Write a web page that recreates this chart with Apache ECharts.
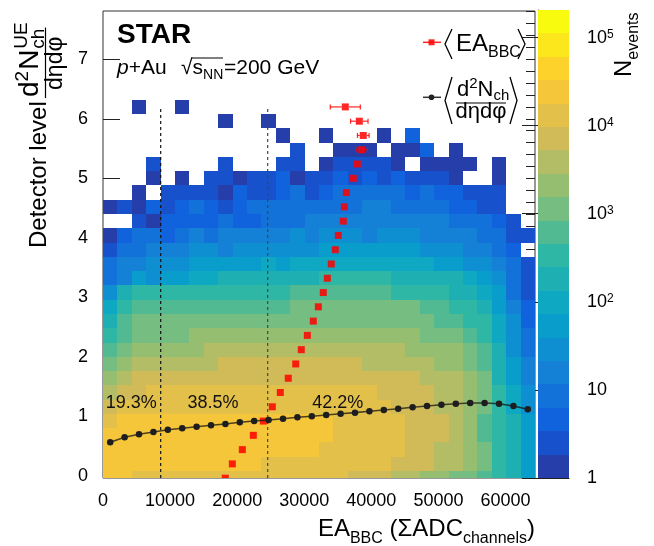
<!DOCTYPE html>
<html>
<head>
<meta charset="utf-8">
<title>EA_BBC vs UE density</title>
<script src="https://cdn.jsdelivr.net/npm/echarts@6.0.0/dist/echarts.min.js"></script>
<style>
  html, body { margin: 0; padding: 0; background: #fff; }
  #chart { width: 654px; height: 546px; }
</style>
</head>
<body>
<div id="chart"></div>
<script>
// ── STAR p+Au: BBC activity vs. detector-level UE density ──

const FONT = '"Liberation Sans", Arial, Helvetica, sans-serif';

// axes
const eaMax = 64400;              // 30 EA bins
const eaBinW = eaMax / 30;
const ueMin = -0.037, ueMax = 7.812;
const ueBinW = 0.24;              // first UE bin starts at -0.16
const ueBinStart = -0.16;
const eaTicks = [0, 10000, 20000, 30000, 40000, 50000, 60000];
const ueTicks = [0, 1, 2, 3, 4, 5, 6, 7];
const zMax = 205600;
const nLevels = 20;
const zTicks = [1, 10, 100, 1000, 10000, 100000];

// colour band of each cell (0 = ~1 event ... 19 = ~2e5), top UE bin first, '-' = empty
const levelRows = [
  '-  -  0  -  -   0  -  -  -  -   -  -  -  -  -   -  -  -  -  -   -  -  -  -  -   -  -  -  -  -',
  '-  -  -  -  -   -  -  -  0  -   -  0  -  -  -   -  -  -  -  -   -  -  -  -  -   -  -  -  -  -',
  '-  -  -  -  -   -  -  -  -  -   -  -  0  -  -   0  -  -  -  0   -  2  -  -  -   -  -  -  -  -',
  '-  -  -  -  -   -  -  -  -  -   -  -  -  1  -   -  0  0  0  -   0  0  2  -  0   -  -  -  -  -',
  '-  -  -  1  -   -  -  -  1  -   -  -  1  1  -   0  1  1  1  1   0  -  0  0  0   0  -  0  -  -',
  '-  -  -  0  -   0  -  1  1  0   1  1  2  0  1   1  2  1  2  1   2  1  1  1  0   -  -  0  -  -',
  '-  -  0  -  1   1  1  1  0  2   1  1  2  3  1   2  3  3  3  3   3  2  3  2  2   1  1  1  -  -',
  '0  1  0  2  1   2  3  2  1  2   3  3  3  3  3   3  3  3  4  4   3  3  3  3  2   2  1  1  -  -',
  '-  -  1  0  2   2  2  2  3  2   2  3  3  3  4   4  4  4  4  4   4  4  4  4  3   3  3  2  1  -',
  '0  2  3  3  2   3  4  3  4  4   4  4  4  5  4   5  5  5  4  5   5  5  4  4  4   4  3  3  1  1',
  '1  3  3  4  4   4  5  5  4  5   5  5  5  5  5   6  6  6  6  6   6  6  5  5  5   4  4  3  2  -',
  '3  4  4  5  5   5  6  6  6  6   6  7  6  7  7   7  7  7  7  7   7  7  7  6  6   5  5  4  3  1',
  '3  4  6  5  6   6  7  7  8  8   8  8  8  8  8   9  9  9  9  9   8  8  8  8  8   7  6  5  3  1',
  '5  8  9  9  9   9  9  9  9  9   9  9  9 10 10  10 10 10 10 10   9  9  9  9  8   8  7  6  3  1',
  '7  9 10 10 10  10 10 10 10 10  10 10 10 11 11  11 11 11 11 11  11 11 10 10  9   9  8  6  4  2',
  '8 10 11 11 11  11 11 11 11 11  11 11 11 11 11  11 11 11 11 11  11 11 11 10 10   9  9  7  5  2',
  '9 10 11 11 11  11 12 12 12 12  12 12 12 12 12  12 12 12 12 12  12 12 11 11 11  10  9  7  5  3',
  '10 11 12 12 12 12 12 13 13 13  13 13 13 13 13  13 13 13 13 13  13 12 12 12 12  11 10  8  5  3',
  '11 12 13 13 13 13 13 13 14 14  14 14 14 14 14  14 14 14 13 13  13 13 13 12 12  11 10  8  6  4',
  '12 13 14 14 14 14 14 14 14 14  14 14 14 14 14  14 14 14 14 14  14 14 13 13 13  12 11  8  6  4',
  '13 14 14 15 15 15 15 15 15 15  15 15 15 15 15  15 15 15 15 14  14 14 14 13 13  12 11  9  7  5',
  '14 15 15 15 15 15 15 15 15 15  15 15 15 15 15  15 15 15 15 15  14 14 14 13 13  12 11  9  7  5',
  '15 16 16 16 16 16 16 16 16 16  16 16 16 16 16  16 15 15 15 15  15 14 14 14 13  12 10  9  8  6',
  '16 16 16 16 16 16 16 16 16 16  16 16 16 16 16  16 15 15 15 15  15 14 14 14 13  12 10  9  8  6',
  '16 16 16 16 16 16 16 16 16 16  16 16 16 16 16  15 15 15 15 15  15 14 14 13 13  12 11  9  8  6',
  '16 16 16 16 16 16 16 16 16 16  16 15 15 15 15  15 15 15 15 15  14 14 14 13 13  12 11  9  8  6',
  '16 16 15 15 15 15 15 15 15 15  15 15 15 15 15  15 15 14 14 14  13 13 12 12 11  11 10  9  8  6'
];

// <EA_BBC> in each UE bin (bottom bin first) and its error
const eaMean = [18230, 19280, 20770, 22410, 23900, 25240, 26430, 27620, 28730, 29560,
                30460, 31350, 32100, 32840, 33440, 34030, 34630, 35080, 35820, 35970,
                36270, 37310, 37910, 38570, 38800, 38210, 36120];
const eaMeanErr = [150, 150, 150, 150, 150, 150, 150, 150, 160, 170,
                   180, 190, 200, 210, 220, 230, 250, 270, 290, 320,
                   350, 400, 450, 850, 870, 1300, 2240];
// <d2N/deta dphi> in each EA bin
const ueMean = [0.563, 0.647, 0.697, 0.736, 0.775, 0.798, 0.825, 0.849, 0.871, 0.899,
                0.921, 0.938, 0.960, 0.983, 1.000, 1.022, 1.044, 1.061, 1.084, 1.106,
                1.128, 1.151, 1.173, 1.195, 1.212, 1.224, 1.224, 1.212, 1.173, 1.118];

// centrality cuts and the event fraction in each class
const cutEA = [8600, 24550];
const cutTop = 6.2;
const fracText = ['19.3%', '38.5%', '42.2%'];
const fracEA = [4200, 16400, 35000];
const fracUE = 1.22;

// ROOT kBird palette
const birdStops = [[53, 42, 135], [15, 92, 221], [20, 129, 214], [6, 164, 202], [46, 183, 164],
                   [135, 191, 119], [209, 187, 89], [254, 200, 50], [249, 251, 14]];
function bird(i) {
  const p = (i + 1) / nLevels * (birdStops.length - 1);
  const k = Math.min(birdStops.length - 2, Math.floor(p));
  const t = p - k, a = birdStops[k], b = birdStops[k + 1];
  return 'rgb(' + a.map((v, j) => Math.round(v + (b[j] - v) * t)).join(',') + ')';
}
const levelW = Math.log10(zMax) / nLevels;

const cells = [];
levelRows.forEach((row, ri) => {
  const r = levelRows.length - 1 - ri;
  row.trim().split(/\s+/).forEach((tok, c) => {
    if (tok === '-') return;
    cells.push([c * eaBinW, ueBinStart + r * ueBinW, Math.pow(10, (+tok + 0.5) * levelW)]);
  });
});
const zBands = [];
for (let i = 0; i < nLevels; i++) zBands.push([Math.pow(10, i * levelW), Math.pow(10, (i + 1) * levelW), i]);

const ueMinor = [];
for (let v = 0; v <= 7.8001; v += 0.2) ueMinor.push(+v.toFixed(1));
const zMinor = [];
for (let d = 0; d <= 5; d++) for (let k = 2; k <= 9; k++) if (k * Math.pow(10, d) < zMax) zMinor.push(k * Math.pow(10, d));

// ── renderers ──
function renderCell(params, api) {
  const x0 = api.value(0), y0 = api.value(1);
  const a = api.coord([x0, y0]), b = api.coord([x0 + eaBinW, y0 + ueBinW]);
  const lvl = Math.min(nLevels - 1, Math.floor(Math.log10(api.value(2)) / levelW));
  const rect = echarts.graphic.clipRectByRect({
    x: Math.round(a[0]), y: Math.round(b[1]),
    width: Math.round(b[0]) - Math.round(a[0]), height: Math.round(a[1]) - Math.round(b[1])
  }, params.coordSys);
  if (!rect) return;
  return { type: 'rect', shape: rect, style: { fill: bird(lvl) } };
}

function renderBand(params, api) {
  const a = api.coord([0, api.value(0)]), b = api.coord([1, api.value(1)]);
  return { type: 'rect', shape: { x: a[0], y: Math.round(b[1]), width: b[0] - a[0], height: Math.round(a[1]) - Math.round(b[1]) },
           style: { fill: bird(api.value(2)) } };
}

const RED = 'rgba(255,0,0,0.85)';
function renderEA(params, api) {
  const x = api.value(0), y = api.value(1), e = api.value(2);
  const c = api.coord([x, y]), l = api.coord([x - e, y]), r = api.coord([x + e, y]);
  const h = 3.5, kids = [];
  if (c[0] - l[0] > h + 0.5) {
    const ln = { stroke: RED, lineWidth: 1.2 };
    kids.push({ type: 'line', shape: { x1: l[0], y1: c[1], x2: c[0] - h, y2: c[1] }, style: ln });
    kids.push({ type: 'line', shape: { x1: c[0] + h, y1: c[1], x2: r[0], y2: c[1] }, style: ln });
    kids.push({ type: 'line', shape: { x1: l[0], y1: c[1] - 2.5, x2: l[0], y2: c[1] + 2.5 }, style: ln });
    kids.push({ type: 'line', shape: { x1: r[0], y1: c[1] - 2.5, x2: r[0], y2: c[1] + 2.5 }, style: ln });
  }
  kids.push({ type: 'rect', shape: { x: c[0] - h, y: c[1] - h, width: 2 * h, height: 2 * h }, style: { fill: RED } });
  return { type: 'group', children: kids };
}

function renderFrac(params, api) {
  const p = api.coord([api.value(0), api.value(1)]);
  return { type: 'text', x: p[0], y: p[1],
           style: { text: fracText[params.dataIndex], fontSize: 18, fontFamily: FONT, fill: '#111', align: 'center', verticalAlign: 'middle' } };
}

// ── text helpers (sub/superscripts laid out by hand) ──
const measureCtx = document.createElement('canvas').getContext('2d');
function textW(p) {
  measureCtx.font = (p.italic ? 'italic ' : '') + (p.bold ? 'bold ' : '') + p.size + 'px "Liberation Sans"';
  return measureCtx.measureText(p.t).width;
}
function textEl(p, x, y, rot) {
  return { type: 'text', x: x, y: y, rotation: rot || 0, silent: true, z: 100,
    style: { text: p.t, fontSize: p.size, fontFamily: FONT, fontStyle: p.italic ? 'italic' : 'normal',
             fontWeight: p.bold ? 'bold' : 'normal', fill: '#000', align: 'left', verticalAlign: 'middle' } };
}
function hRun(x, base, parts, right) {
  if (right) x -= parts.reduce((s, p) => s + (p.stack ? 0 : textW(p)), 0);
  const out = parts.map(p => {
    if (p.x != null) x = p.x;
    const el = textEl(p, x, base + (p.dy || 0) - 0.35 * p.size);
    if (!p.stack) x += textW(p);
    return el;
  });
  out.end = x;
  return out;
}
function vRun(base, y, parts) {
  const out = parts.map(p => {
    const el = textEl(p, base + (p.dy || 0) - 0.35 * p.size, y, Math.PI / 2);
    if (!p.stack) y -= textW(p) + (p.gap || 0);
    return el;
  });
  out.end = y;
  return out;
}
function seg(x1, y1, x2, y2, color, w) {
  return { type: 'line', silent: true, z: 100, shape: { x1, y1, x2, y2 }, style: { stroke: color || '#000', lineWidth: w || 1.2 } };
}
function bracket(x, y1, y2, dir) {
  const w = 7 * dir;
  return { type: 'polyline', silent: true, z: 100, shape: { points: [[x + w, y1], [x, (y1 + y2) / 2], [x + w, y2]] },
           style: { stroke: '#000', lineWidth: 1.3, fill: null } };
}

const graphics = [];
graphics.push(...hRun(117, 45, [{ t: 'STAR', size: 28, bold: true }]));
graphics.push(...hRun(117, 76, [{ t: 'p', size: 21, italic: true }, { t: '+Au', size: 21 }, { t: '√', size: 21, x: 181 },
  { t: 's', size: 21 }, { t: 'NN', size: 14, dy: 4 }, { t: '=200 GeV', size: 21, x: 224 }]));
graphics.push(seg(191, 58, 223, 58, '#000', 1));

// legend
graphics.push(seg(423, 42.3, 441, 42.3, RED, 1.5));
graphics.push({ type: 'rect', z: 100, shape: { x: 428.5, y: 39.3, width: 6, height: 6 }, style: { fill: RED } });
graphics.push(bracket(445, 29, 59, 1), bracket(525, 29, 59, -1));
graphics.push(...hRun(456, 52.5, [{ t: 'EA', size: 24 }, { t: 'BBC', size: 16, dy: 6 }]));
graphics.push(seg(423, 97.3, 441, 97.3, '#333', 1.5));
graphics.push({ type: 'circle', z: 100, shape: { cx: 431.5, cy: 97.3, r: 2.8 }, style: { fill: '#222' } });
graphics.push(bracket(445, 77, 124, 1), bracket(517, 77, 124, -1));
graphics.push(...hRun(457, 98, [{ t: 'd', size: 22 }, { t: '2', size: 15, dy: -9 }, { t: 'N', size: 22 }, { t: 'ch', size: 15, dy: 3 }]));
graphics.push(seg(456, 103, 506, 103, '#000', 1.2));
const den1 = { t: 'dηdφ', size: 22 };
graphics.push(...hRun(481 - textW(den1) / 2, 119.5, [den1]));

// y title
graphics.push(...vRun(48, 248, [{ t: 'Detector level', size: 24 }]));
const num = vRun(40, 97, [{ t: 'd', size: 28 }, { t: '2', size: 19, dy: -11, gap: 1 }, { t: 'N', size: 28, gap: 1 },
  { t: 'UE', size: 19, dy: -12, stack: true }, { t: 'ch', size: 19, dy: 5 }]);
graphics.push(...num);
graphics.push(seg(45.5, 98, 45.5, num.end - 1, '#000', 1.2));
const den2 = { t: 'dηdφ', size: 23 };
graphics.push(...vRun(64, (98 + num.end) / 2 + textW(den2) / 2, [den2]));

// x title and colour-bar title
graphics.push(...hRun(535, 538, [{ t: 'EA', size: 24 }, { t: 'BBC', size: 16, dy: 6 }, { t: ' (ΣADC', size: 24 },
  { t: 'channels', size: 16, dy: 6 }, { t: ')', size: 24 }], true));
graphics.push(...vRun(633, 77, [{ t: 'N', size: 24 }, { t: 'events', size: 16, dy: 6 }]));

// ── chart ──
const chart = echarts.init(document.getElementById('chart'), null, { renderer: 'canvas' });
const axisText = { fontSize: 18, color: '#000', fontFamily: FONT };

chart.setOption({
  animation: false,
  backgroundColor: '#fff',
  grid: [
    { left: 103, top: 11, width: 432, height: 467, show: true, borderColor: '#333', borderWidth: 1,
      backgroundColor: 'transparent', containLabel: false, outerBoundsMode: 'none' },
    { left: 538, top: 10, width: 31, height: 468, containLabel: false, outerBoundsMode: 'none' }
  ],
  xAxis: [
    { gridIndex: 0, type: 'value', min: 0, max: eaMax,
      axisLine: { show: false }, splitLine: { show: false },
      axisTick: { show: true, inside: true, length: 12, customValues: eaTicks, lineStyle: { color: '#222' } },
      axisLabel: Object.assign({ customValues: eaTicks, margin: 14, formatter: v => String(v) }, axisText) },
    { gridIndex: 1, type: 'value', min: 0, max: 1,
      axisLine: { show: true, lineStyle: { color: '#222' } }, axisTick: { show: false },
      axisLabel: { show: false }, splitLine: { show: false } }
  ],
  yAxis: [
    { gridIndex: 0, type: 'value', min: ueMin, max: ueMax,
      axisLine: { show: false }, splitLine: { show: false },
      axisTick: { show: true, inside: true, length: 17, customValues: ueTicks, lineStyle: { color: '#222' } },
      axisLabel: Object.assign({ customValues: ueTicks, margin: 15, formatter: v => String(v) }, axisText) },
    { gridIndex: 0, type: 'value', min: ueMin, max: ueMax,
      axisLine: { show: false }, splitLine: { show: false }, axisLabel: { show: false },
      axisTick: { show: true, inside: true, length: 9, customValues: ueMinor, lineStyle: { color: '#222' } } },
    { gridIndex: 1, type: 'log', logBase: 10, min: 1, max: zMax, position: 'right',
      axisLine: { show: true, lineStyle: { color: '#222' } }, splitLine: { show: false },
      axisTick: { show: true, inside: true, length: 16, customValues: zTicks, lineStyle: { color: '#222' } },
      axisLabel: Object.assign({ customValues: zTicks, margin: 18,
        formatter: v => v < 100 ? String(Math.round(v)) : '10{sup|' + Math.round(Math.log10(v)) + '}',
        rich: { sup: { fontSize: 12, fontFamily: FONT, color: '#000', verticalAlign: 'top', lineHeight: 12 } } }, axisText) },
    { gridIndex: 1, type: 'log', logBase: 10, min: 1, max: zMax, position: 'right',
      axisLine: { show: false }, splitLine: { show: false }, axisLabel: { show: false },
      axisTick: { show: true, inside: true, length: 8, customValues: zMinor, lineStyle: { color: '#222' } } }
  ],
  series: [
    { type: 'custom', name: 'events', xAxisIndex: 0, yAxisIndex: 0, data: cells, encode: { x: 0, y: 1 },
      renderItem: renderCell, silent: true, z: 2 },
    ...cutEA.map((x, i) => ({
      type: 'line', xAxisIndex: 0, yAxisIndex: 0, data: [[x, ueMin], [x, cutTop]], symbol: 'none', silent: true, z: 3,
      lineStyle: { color: i ? '#444' : '#111', width: 1.2, type: [3, 3] } })),
    { type: 'custom', name: 'EA mean', xAxisIndex: 0, yAxisIndex: 0, clip: true, silent: true, z: 4,
      data: eaMean.map((v, k) => [v, ueBinStart + (k + 0.5) * ueBinW, eaMeanErr[k]]), encode: { x: 0, y: 1 },
      renderItem: renderEA },
    { type: 'line', name: 'UE mean', xAxisIndex: 0, yAxisIndex: 0, silent: true, z: 5,
      data: ueMean.map((v, i) => [(i + 0.5) * eaBinW, v]),
      symbol: 'circle', symbolSize: 6.5, itemStyle: { color: '#1e1e1e' },
      lineStyle: { color: 'rgba(20,20,20,0.75)', width: 1.6 } },
    { type: 'custom', name: 'fractions', xAxisIndex: 0, yAxisIndex: 0, silent: true, z: 6,
      data: fracEA.map(x => [x, fracUE]), encode: { x: 0, y: 1 }, renderItem: renderFrac },
    { type: 'custom', name: 'palette', xAxisIndex: 1, yAxisIndex: 2, silent: true, z: 2,
      data: zBands, encode: { y: [0, 1] }, renderItem: renderBand }
  ],
  graphic: { elements: graphics }
});
</script>
</body>
</html>
